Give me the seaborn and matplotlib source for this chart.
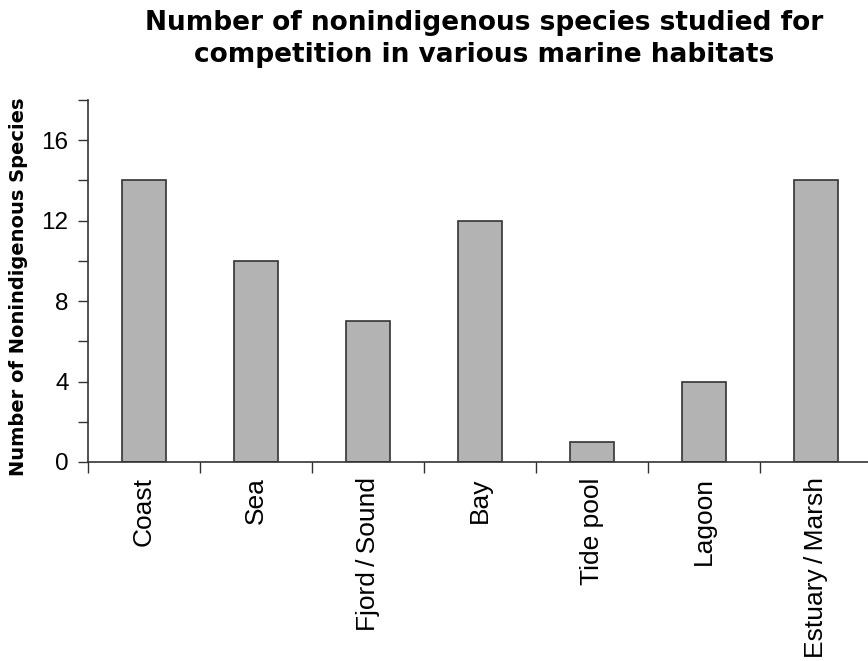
import numpy as np
import pandas as pd
import matplotlib as mpl
mpl.use('Agg')
import matplotlib.pyplot as plt
import seaborn as sns

habitats = ['Coast', 'Sea', 'Fjord\u2009/\u2009Sound', 'Bay', 'Tide pool', 'Lagoon',
            'Estuary\u2009/\u2009Marsh']
counts = [14, 10, 7, 12, 1, 4, 14]

df = pd.DataFrame({'habitat': habitats, 'count': counts})

sns.set_style('ticks')
plt.rcParams['font.family'] = ['Liberation Sans', 'DejaVu Sans']
plt.rcParams['text.color'] = 'black'

fig = plt.figure(figsize=(8.68, 6.61), dpi=100)
ax = fig.add_axes([88/868, 1 - 462/661, 784/868, 362/661])

sns.barplot(data=df, x='habitat', y='count', color='#b3b3b3', saturation=1,
            width=0.39, edgecolor='#333333', linewidth=1.2, ax=ax)

ax.set_xlim(-0.5, 6.5)
ax.set_ylim(0, 18)
ax.set_yticks([0, 4, 8, 12, 16])
ax.set_yticks([2, 6, 10, 14, 18], minor=True)
ax.set_xticks(np.arange(-0.5, 7, 1), minor=True)
ax.set_xticks(range(len(habitats)))
ax.set_xticklabels(habitats, rotation=90, fontsize=19)

ax.tick_params(axis='x', which='major', length=0, pad=11, labelcolor='black')
ax.tick_params(axis='x', which='minor', length=8, width=1, color='#333333', direction='out')
ax.tick_params(axis='y', which='both', length=7, width=1, color='#333333', direction='out',
               labelsize=17.5, labelcolor='black', pad=7)

for side in ['top', 'right']:
    ax.spines[side].set_visible(False)
for side in ['left', 'bottom']:
    ax.spines[side].set_color('#333333')
    ax.spines[side].set_linewidth(1.2)

ax.set_xlabel('')
ax.set_ylabel('Number of Nonindigenous Species', fontsize=14, fontweight='bold',
              color='black', family='DejaVu Sans')
ax.yaxis.set_label_coords(-0.076, 0.483)
ax.set_title('Number of nonindigenous species studied for\ncompetition in various marine habitats',
             fontsize=19, fontweight='bold', pad=27, linespacing=1.34, color='black',
             family='DejaVu Sans', x=0.505)

fig.savefig('out.png', dpi=100)
